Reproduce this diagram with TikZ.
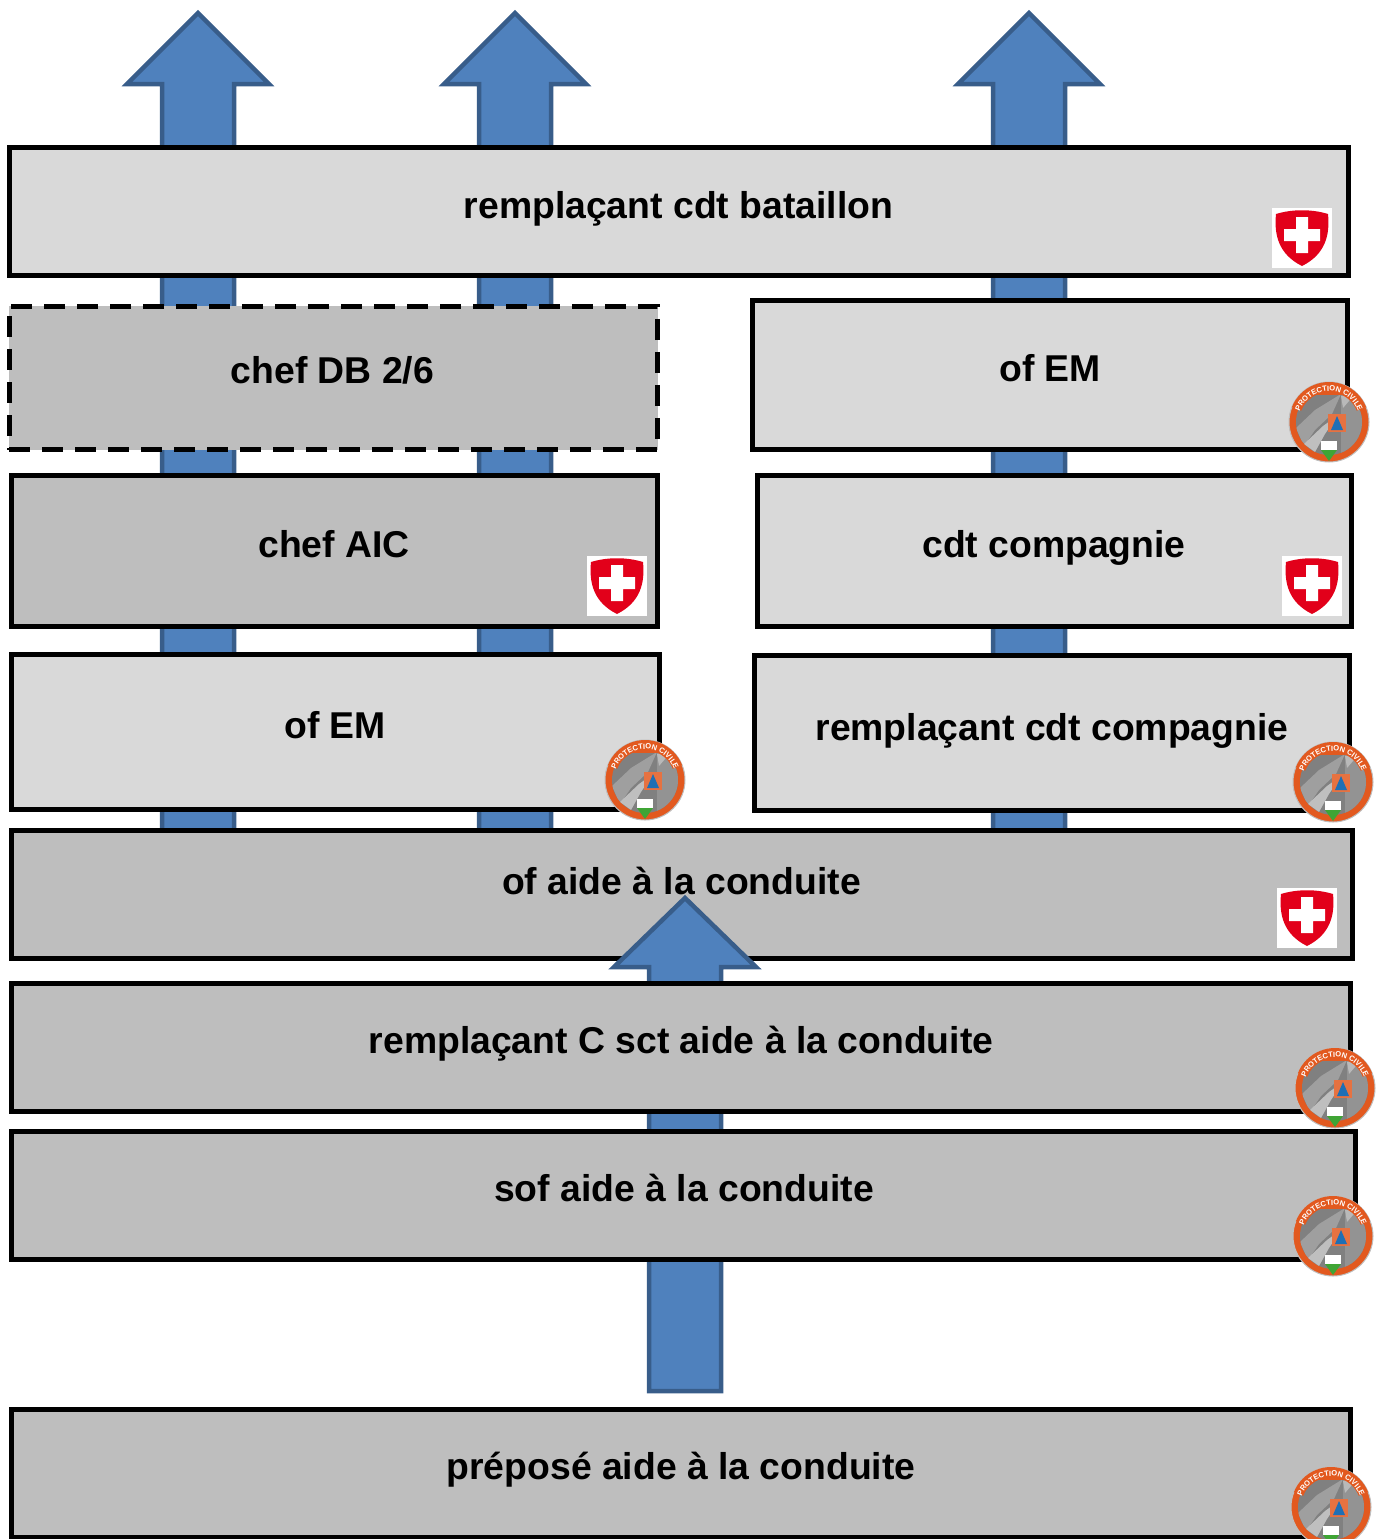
\documentclass[tikz,border=0pt]{standalone}
\usepackage{fontspec}
\setmainfont{Liberation Sans}
\usepackage{xcolor}
\usetikzlibrary{positioning,decorations.text}
\definecolor{lightbox}{HTML}{D9D9D9}
\definecolor{darkbox}{HTML}{BEBEBE}
\definecolor{arrowfill}{HTML}{4F81BD}
\definecolor{arrowline}{HTML}{385D8A}
\definecolor{pcorange}{HTML}{E2591F}
\definecolor{pcgrey}{HTML}{808080}
\definecolor{pcblue}{HTML}{1F6FB5}
\definecolor{pcgreen}{HTML}{3FA535}
\definecolor{swissred}{HTML}{E2001A}
\newcommand{\badgefont}{\fontsize{4.3}{5}\selectfont\bfseries\color{white}}

\begin{document}
\begin{tikzpicture}[x=0.02cm,y=-0.02cm]
  \tikzset{lightrole/.style = {shape=rectangle,draw,line width=0.1cm,fill=lightbox,inner sep=0pt}}
  \tikzset{darkrole/.style = {shape=rectangle,draw,line width=0.1cm,fill=darkbox,inner sep=0pt}}
  \tikzset{openrole/.style = {darkrole,dash pattern=on 0.42cm off 0.24cm}}
  \tikzset{rolename/.style = {anchor=base,inner sep=0pt,font=\fontsize{21.25}{25}\selectfont\bfseries}}
  \tikzset{uparrow/.style = {draw=arrowline,fill=arrowfill,line width=0.09cm,miter limit=10}}
  \tikzset{%
  swiss/.pic={
    \fill[white] (-30,-30) rectangle (30,30);
    \fill[swissred] (-26,-24) .. controls (-10,-29) and (10,-29) .. (26,-24)
      .. controls (28,-4) and (24,16) .. (0,28)
      .. controls (-24,16) and (-28,-4) .. (-26,-24) -- cycle;
    \fill[white] (-6,-21) -- (6,-21) -- (6,-9) -- (18,-9) -- (18,3) -- (6,3) -- (6,15)
      -- (-6,15) -- (-6,3) -- (-18,3) -- (-18,-9) -- (-6,-9) -- cycle;
  },
  civil/.pic={
    \fill[pcorange] (0,0) circle (40);
    \draw[gray!50,line width=0.02cm] (0,0) circle (40);
    \begin{scope}
      \clip (0,0) circle (33);
      \fill[pcgrey] (-40,-40) rectangle (40,40);
      \fill[gray!75] (-33,6) -- (-14,-12) -- (12,-28) -- (3,-8) -- (-14,8) -- (-25,24) -- cycle;
      \fill[gray!50] (-25,22) -- (-6,4) -- (8,-6) -- (-4,12) -- (-14,30) -- cycle;
      \fill[gray!85] (12,-35) -- (35,-35) -- (35,35) -- (12,35) -- cycle;
      \fill[gray!55] (12,-26) -- (26,-28) -- (14,-14) -- cycle;
      \fill[pcorange] (-40,-40) rectangle (40,-27);
    \end{scope}
    \fill[pcorange] (158:0.6cm) arc[start angle=158,end angle=22,radius=0.6cm] -- (22:0.8cm) arc[start angle=22,end angle=158,radius=0.8cm] -- cycle;
    \path[decorate,decoration={text along path,text align=center,
      text={|\badgefont|PROTECTION CIVILE}}]
      (170:0.62cm) arc[start angle=170,end angle=10,radius=0.62cm];
    \fill[pcorange!85!white] (-1,-8) rectangle (17,10);
    \fill[pcblue] (2,8) -- (8,-6) -- (14,8) -- cycle;
    \fill[white] (-8,19) rectangle (8,28);
    \fill[pcgreen] (-8,28) -- (8,28) -- (0,39) -- cycle;
  },
}

	\useasboundingbox (0,0) rectangle (1384,1539);
	\clip (0,0) rectangle (1384,1539);

	% arrows going up on the top part
	\foreach \ax in {198,515,1029}
	\draw[uparrow] (\ax-36,830) -- (\ax-36,84) -- (\ax-71,84) -- (\ax,13) -- (\ax+71,84) -- (\ax+36,84) -- (\ax+36,830);

	\node[lightrole,minimum width=26.8cm,minimum height=2.56cm] (bataillon) at (679,211.5) {};
	\node[openrole,minimum width=12.98cm,minimum height=2.88cm] (chefdb) at (333.5,378) {};
	\node[lightrole,minimum width=11.9cm,minimum height=3cm] (ofemR) at (1050,375) {};
	\node[darkrole,minimum width=12.92cm,minimum height=3.02cm] (chefaic) at (334.5,551) {};
	\node[lightrole,minimum width=11.9cm,minimum height=3.02cm] (cdtcie) at (1054.5,551) {};
	\node[lightrole,minimum width=12.96cm,minimum height=3.1cm] (ofemL) at (335.5,732) {};
	\node[lightrole,minimum width=11.9cm,minimum height=3.1cm] (rempcie) at (1052,733) {};
	\node[darkrole,minimum width=26.82cm,minimum height=2.56cm] (ofaide) at (682,894.5) {};

	% arrow from the lower part, the next boxes cover it
	\draw[uparrow] (649,1391) -- (649,967) -- (614,967) -- (685,898) -- (756,967) -- (721,967) -- (721,1391) -- cycle;

	\node[darkrole,minimum width=26.78cm,minimum height=2.56cm] (rempsct) at (681,1047.5) {};
	\node[darkrole,minimum width=26.88cm,minimum height=2.56cm] (sofaide) at (683.5,1195) {};
	\node[darkrole,minimum width=26.78cm,minimum height=2.56cm] (prepose) at (681,1473) {};

	\node[rolename] (batT) at (678.5,218) {remplaçant cdt bataillon};
	\node[rolename] (dbT) at (332.5,383) {chef DB 2/6};
	\node[rolename] (emrT) at (1050,381) {of EM};
	\node[rolename] (aicT) at (334,557) {chef AIC};
	\node[rolename] (cieT) at (1054,557) {cdt compagnie};
	\node[rolename] (emlT) at (335,738) {of EM};
	\node[rolename] (rcieT) at (1052,740) {remplaçant cdt compagnie};
	\node[rolename] (aideT) at (681.5,894) {of aide à la conduite};
	\node[rolename] (rsctT) at (681,1053) {remplaçant C sct aide à la conduite};
	\node[rolename] (sofT) at (684,1201) {sof aide à la conduite};
	\node[rolename] (prepT) at (681,1479) {préposé aide à la conduite};

	\foreach \bx/\by in {1302/238, 617/586, 1312/586, 1307/918}
	\pic at (\bx,\by) {swiss};
	\foreach \bx/\by in {1329/422, 645/780, 1333/782, 1335/1088, 1333/1236, 1331/1507}
	\pic at (\bx,\by) {civil};
\end{tikzpicture}
\end{document}
